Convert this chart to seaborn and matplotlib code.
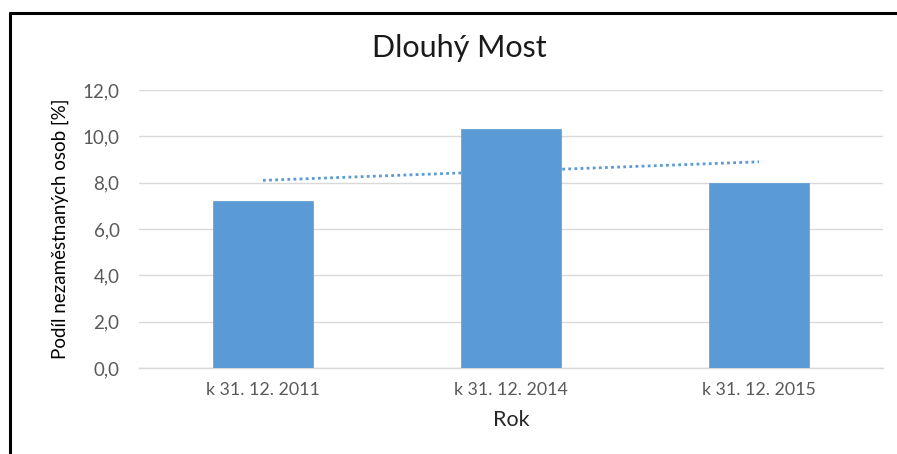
import matplotlib
matplotlib.use("Agg")
import matplotlib.pyplot as plt
import seaborn as sns
import numpy as np
import pandas as pd
from matplotlib.lines import Line2D

categories = ["k 31. 12. 2011", "k 31. 12. 2014", "k 31. 12. 2015"]
values = [7.2, 10.3, 8.0]
yticks = [0, 2, 4, 6, 8, 10, 12]
ytick_labels = ["0,0", "2,0", "4,0", "6,0", "8,0", "10,0", "12,0"]

title = "Dlouhý Most"
xlabel = "Rok"
ylabel = "Podíl nezaměstnaných osob [%]"

sns.set_theme(style="white")
plt.rcParams['font.family'] = ['Lato', 'DejaVu Sans']

bar_color = "#5B9BD5"
text_gray = "#595959"

fig = plt.figure(figsize=(8.97, 4.54), dpi=100)
ax = fig.add_axes([139/897, 1-368/454, (883-139)/897, (368-90)/454])

df = pd.DataFrame({"cat": categories, "val": values})
sns.barplot(data=df, x="cat", y="val", color=bar_color, width=0.4,
            saturation=1, ax=ax, zorder=3, edgecolor=bar_color, linewidth=0.5)

# linear trendline
xs = np.arange(len(values))
coef = np.polyfit(xs, values, 1)
ax.plot(xs, np.polyval(coef, xs), linestyle=(0, (1, 1.2)), color=bar_color,
        linewidth=2, zorder=2)

ax.set_ylim(0, 12)
ax.set_xlim(-0.5, 2.5)
ax.set_yticks(yticks)
ax.set_yticklabels(ytick_labels)
ax.yaxis.grid(True, color="#D9D9D9", linewidth=1, zorder=0)
ax.set_axisbelow(True)
for s in ["top", "right", "left"]:
    ax.spines[s].set_visible(False)
ax.spines["bottom"].set_color("#D9D9D9")
ax.spines["bottom"].set_linewidth(1)
ax.tick_params(axis="x", length=0, colors=text_gray, labelsize=12.8, pad=10)
ax.tick_params(axis="y", length=0, colors=text_gray, labelsize=13.5, pad=14)

ax.set_xlabel(xlabel, fontsize=15.5, color="#262626", labelpad=9)
ax.set_ylabel(ylabel, fontsize=13.5, color="#000000", labelpad=10)
fig.text(459/897, 1-48/454, title, ha="center", va="center", fontsize=22, color="#1a1a1a")

# frame lines (left and top)
fig.add_artist(Line2D([10/897, 10/897], [0, 1-13/454], color="black", linewidth=2.2, transform=fig.transFigure))
fig.add_artist(Line2D([10/897, 1], [1-13/454, 1-13/454], color="black", linewidth=2.2, transform=fig.transFigure))

fig.savefig("out.png", dpi=100)
